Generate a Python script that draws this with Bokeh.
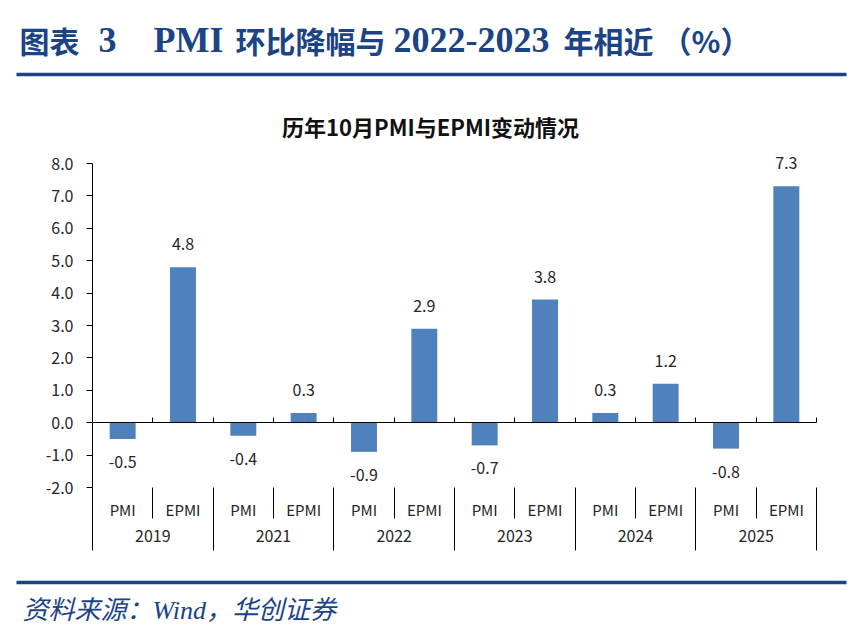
from bokeh.plotting import figure
from bokeh.models import (Range1d, LinearAxis, LinearScale, FixedTicker,
                          PrintfTickFormatter, CustomJSTickFormatter, ColumnDataSource)
from bokeh.core.properties import value
from bokeh.embed import file_html
from bokeh.resources import INLINE

# ---------------- data ----------------
years = ["2019", "2021", "2022", "2023", "2024", "2025"]
series = ["PMI", "EPMI"]
pmi = [-0.5, -0.4, -0.9, -0.7, 0.3, -0.8]
epmi = [4.8, 0.3, 2.9, 3.8, 1.2, 7.3]
y_ticks = [-2.0, -1.0, 0.0, 1.0, 2.0, 3.0, 4.0, 5.0, 6.0, 7.0, 8.0]

title_parts = ["图表", "3", "PMI", "环比降幅与", "2022-2023", "年相近", "（%）"]
chart_title = "历年10月PMI与EPMI变动情况"
source_text = "资料来源：Wind，华创证券"

# ---------------- styling / layout ----------------
W, H = 854, 642
SLOT = 724 / 12          # px per category slot
UNIT = 32.4              # px per y unit
X0_PX, YTOP_PX = 92, 163  # plot area left edge / position of top tick
BLUE_DARK = "#1B4486"
BAR = "#4F81BD"
TXT = "#262626"
CJK = "'Noto Sans CJK SC'"
SERIF = "'Liberation Serif', 'Noto Sans CJK SC'"

# ---------------- derived ----------------
n = len(years) * len(series)
cat_series = [s for _ in years for s in series]
vals = []
for a, b in zip(pmi, epmi):
    vals += [a, b]
centers = [i + 0.5 for i in range(n)]
year_centers = [len(series) * (i + 0.5) for i in range(len(years))]

src = ColumnDataSource(dict(
    x=centers, v=vals,
    lab=[f"{v:.1f}" for v in vals],
    off=[-23 if v >= 0 else 23 for v in vals],
))

ytop = y_ticks[-1]
p = figure(width=W, height=H,
           x_range=Range1d(-X0_PX / SLOT, (W - X0_PX) / SLOT),
           y_range=Range1d(ytop - (H - YTOP_PX) / UNIT, ytop + YTOP_PX / UNIT),
           x_axis_location=None, y_axis_location=None, toolbar_location=None,
           output_backend="svg", min_border=0, outline_line_color=None)
p.grid.visible = False
p.extra_x_ranges = {"px": Range1d(0, W)}
p.extra_y_ranges = {"px": Range1d(H, 0)}
p.extra_x_scales = {"px": LinearScale()}
p.extra_y_scales = {"px": LinearScale()}

# ---------------- header ----------------
tparts_x = [19, 98, 153, 235, 393, 563, 661]
tparts_cjk = [True, False, False, True, False, True, True]
for t, x, cj in zip(title_parts, tparts_x, tparts_cjk):
    p.text(x=[x], y=[39], text=[t], x_range_name="px", y_range_name="px",
           text_font=value(CJK if cj else SERIF), text_font_style="bold",
           text_font_size="30px" if cj else "36px", text_color=BLUE_DARK,
           text_baseline="middle", text_align="left")
p.segment(x0=[16], y0=[74], x1=[846], y1=[74], x_range_name="px", y_range_name="px",
          line_color=BLUE_DARK, line_width=3.5)
p.text(x=[430], y=[125], text=[chart_title], x_range_name="px", y_range_name="px",
       text_font=value(CJK), text_font_style="bold", text_font_size="22px",
       text_color="#111111", text_baseline="middle", text_align="center")

# ---------------- bars ----------------
p.vbar(x="x", top="v", bottom=0, width=0.43, source=src, fill_color=BAR, line_color=None)
p.text(x="x", y="v", text="lab", y_offset="off", source=src, text_font=value(CJK),
       text_font_size="16px", text_color=TXT, text_align="center", text_baseline="middle")

# ---------------- axes ----------------
ya = LinearAxis(fixed_location=0, bounds=(y_ticks[0], y_ticks[-1]),
                ticker=FixedTicker(ticks=y_ticks),
                formatter=PrintfTickFormatter(format="%.1f"))
ya.major_label_text_font = CJK
ya.major_label_text_font_size = "16px"
ya.major_label_text_color = TXT
ya.axis_line_color = "#000000"
ya.major_tick_line_color = "#000000"
ya.major_tick_out = 6
ya.major_tick_in = 0
ya.minor_tick_line_color = None
ya.major_label_standoff = 13
p.add_layout(ya, "left")

bounds_all = list(range(n + 1))
bounds_year = bounds_all[::len(series)]
bounds_series = [b for b in bounds_all if b not in bounds_year]


def hidden_axis(loc, ticks, tick_in, tick_out, line=False):
    ax = LinearAxis(fixed_location=loc, ticker=FixedTicker(ticks=ticks),
                    bounds=(0, n))
    ax.axis_line_color = "#000000" if line else None
    ax.major_tick_line_color = "#000000"
    ax.major_tick_in = tick_in
    ax.major_tick_out = tick_out
    ax.minor_tick_line_color = None
    ax.major_label_text_color = None
    p.add_layout(ax, "below")
    return ax


hidden_axis(0, bounds_all, 5, 0, line=True)        # zero line
hidden_axis(y_ticks[0], bounds_year, 0, 63)        # year separators
hidden_axis(y_ticks[0], bounds_series, 0, 31)      # series separators

sa = LinearAxis(fixed_location=y_ticks[0], ticker=FixedTicker(ticks=centers),
                formatter=CustomJSTickFormatter(args=dict(names=cat_series),
                                                code="return names[index]"))
sa.axis_line_color = None
sa.major_tick_line_color = None
sa.major_tick_in = 0
sa.major_tick_out = 0
sa.minor_tick_line_color = None
sa.major_label_standoff = 11
sa.major_label_text_font = CJK
sa.major_label_text_font_size = "15px"
sa.major_label_text_color = TXT
p.add_layout(sa, "below")

ga = LinearAxis(fixed_location=y_ticks[0], ticker=FixedTicker(ticks=year_centers),
                formatter=CustomJSTickFormatter(args=dict(names=years),
                                                code="return names[index]"))
ga.axis_line_color = None
ga.major_tick_line_color = None
ga.major_tick_in = 0
ga.major_tick_out = 0
ga.minor_tick_line_color = None
ga.major_label_standoff = 42
ga.major_label_text_font = CJK
ga.major_label_text_font_size = "16px"
ga.major_label_text_color = TXT
p.add_layout(ga, "below")

# ---------------- footer ----------------
p.segment(x0=[16], y0=[582], x1=[846], y1=[582], x_range_name="px", y_range_name="px",
          line_color=BLUE_DARK, line_width=3.5)
p.text(x=[22], y=[610], text=[source_text], x_range_name="px", y_range_name="px",
       text_font=value(SERIF), text_font_style="italic", text_font_size="26px",
       text_color=BLUE_DARK, text_baseline="middle", text_align="left")

open("out.html", "w").write(file_html(p, INLINE))
